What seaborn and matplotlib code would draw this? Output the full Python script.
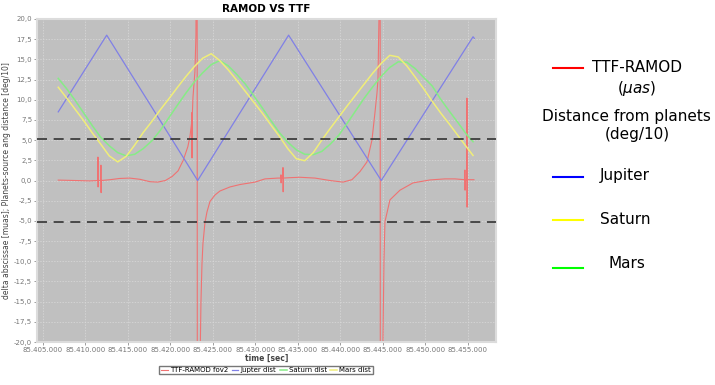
# %%
# ==========================================
# RAMOD VS TTF - recreated chart
# ==========================================
import numpy as np
import pandas as pd
import matplotlib
matplotlib.use("Agg")
import matplotlib.pyplot as plt
import seaborn as sns
from matplotlib.lines import Line2D
from matplotlib.ticker import FuncFormatter

# %%
# data (time in seconds = T0 + offset)
T0 = 85400000

# smooth planet distance curves, sampled every 1000 s
dist_offsets = [6800, 7800, 8800, 9800, 10800, 11800, 12800, 13800, 14800, 15800,
                16800, 17800, 18800, 19800, 20800, 21800, 22800, 23800, 24800, 25800,
                26800, 27800, 28800, 29800, 30800, 31800, 32800, 33800, 34800, 35800,
                36800, 37800, 38800, 39800, 40800, 41800, 42800, 43800, 44800, 45800,
                46800, 47800, 48800, 49800, 50800, 51800, 52800, 53800, 54800, 55600]

# yellow curve ("Mars dist" in the inner legend)
mars_dist = [11.55, 10.2, 8.8, 7.4, 5.9, 4.5, 3.05, 2.3, 3.0, 4.4,
             5.95, 7.3, 8.75, 10.1, 11.5, 12.85, 14.1, 15.15, 15.7, 14.85,
             13.7, 12.4, 11.05, 9.7, 8.35, 6.9, 5.5, 3.95, 2.7, 2.45,
             3.45, 5.0, 6.45, 7.85, 9.25, 10.6, 11.95, 13.3, 14.5, 15.5,
             15.3, 14.2, 12.8, 11.35, 9.8, 8.35, 7.0, 5.6, 4.2, 3.1]

# green curve ("Saturn dist" in the inner legend)
saturn_dist = [12.65, 11.35, 9.9, 8.35, 6.8, 5.35, 4.3, 3.45, 3.05, 3.25,
               3.95, 4.9, 6.2, 7.75, 9.3, 10.8, 12.2, 13.35, 14.35, 14.85,
               14.2, 13.15, 11.95, 10.5, 9.0, 7.45, 5.95, 4.75, 3.8, 3.25,
               3.2, 3.6, 4.5, 5.6, 7.1, 8.65, 10.2, 11.6, 12.9, 14.0,
               14.7, 14.65, 13.85, 12.75, 11.7, 10.05, 8.6, 7.2, 5.75, 4.8]

# blue triangle ("Jupter dist")
jup_offsets = [6800, 12500, 23200, 33900, 44800, 55600, 55750]
jup_dist = [8.5, 18.0, 0.0, 18.0, 0.0, 17.8, 17.6]

# red TTF-RAMOD residuals (muas), with spikes and the two singularities
ttf_offsets = [6800, 8800, 10500,
               11450, 11470, 11490, 11510, 11800, 11820, 11840, 11860,
               12900, 14000, 15200, 16400, 17600, 18500, 19400, 20200, 20900,
               21500, 22050, 22300, 22500, 22520, 22540, 22560, 22650, 22880,
               23000, 23060, 23120, 23180, 23450, 23590, 23710, 23824, 24060,
               24295, 24650, 25236, 25824, 27000, 28177, 29940, 31120, 32650,
               32980, 33000, 33020, 33040, 33220, 33240, 33260, 33280,
               34060, 35236, 37000, 38765, 40295, 41353, 42295, 43118, 43706,
               44059, 44295, 44412, 44530, 44650, 44710, 45000, 45118, 45236,
               45824, 47000, 48530, 50530, 52295, 53470,
               54620, 54640, 54660, 54680, 54860, 54880, 54900, 54920,
               55236, 55706]
ttf_ramod = [0.05, 0.0, -0.05,
             0.0, 2.9, -0.8, 0.0, 0.0, 1.9, -1.5, 0.0,
             0.1, 0.25, 0.3, 0.15, -0.15, -0.2, 0.0, 0.5, 1.2,
             2.5, 4.2, 5.5, 7.2, 8.4, 2.8, 7.8, 10.3, 13.5,
             18.0, 40.0, 80.0, -80.0, -25.0, -15.0, -10.3, -7.8, -5.2,
             -3.9, -2.6, -1.8, -1.3, -0.8, -0.5, -0.2, 0.2, 0.3,
             0.3, 0.7, -0.3, 0.3, 0.3, 1.6, -1.4, 0.3,
             0.35, 0.4, 0.3, 0.0, -0.2, 0.1, 1.1, 2.3, 5.0,
             8.4, 10.8, 12.4, 20.0, 80.0, -80.0, -20.0, -10.0, -5.1,
             -2.4, -1.2, -0.3, 0.07, 0.2, 0.2,
             0.1, 1.3, -1.2, 0.1, 0.1, 10.2, -3.3, 0.1,
             0.1, 0.1]

threshold = 5.2   # dashed limits drawn at +/- this value

x_ticks = [85405000, 85410000, 85415000, 85420000, 85425000,
           85430000, 85435000, 85440000, 85445000, 85450000, 85455000]
y_ticks = [-20, -17.5, -15, -12.5, -10, -7.5, -5, -2.5, 0,
           2.5, 5, 7.5, 10, 12.5, 15, 17.5, 20]

df_dist = pd.DataFrame({'time': np.array(dist_offsets) + T0,
                        'mars': mars_dist, 'saturn': saturn_dist})
df_jup = pd.DataFrame({'time': np.array(jup_offsets) + T0, 'jup': jup_dist})
df_ttf = pd.DataFrame({'time': np.array(ttf_offsets) + T0, 'ttf': ttf_ramod})

# %%
# figure
fig = plt.figure(figsize=(7.15, 3.85), dpi=100)
ax = fig.add_axes([37 / 715, 43 / 385, 459 / 715, 323 / 385])
ax.set_facecolor('#c0c0c0')

c_red, c_blue, c_green, c_yellow = '#f07272', '#8080e6', '#86ec86', '#f0ee78'

sns.lineplot(data=df_ttf, x='time', y='ttf', ax=ax, color=c_red, lw=0.8,
             estimator=None, label='TTF-RAMOD fov2')
sns.lineplot(data=df_jup, x='time', y='jup', ax=ax, color=c_blue, lw=0.9,
             estimator=None, label='Jupter dist')
sns.lineplot(data=df_dist, x='time', y='saturn', ax=ax, color=c_green, lw=1.1,
             estimator=None, label='Saturn dist')
sns.lineplot(data=df_dist, x='time', y='mars', ax=ax, color=c_yellow, lw=1.1,
             estimator=None, label='Mars dist')

# dashed limit lines
for yv in (threshold, -threshold):
    ax.axhline(yv, color='#333333', lw=1.2, ls=(0, (6, 4)), zorder=5, clip_on=False)

ax.set_xlim(85404300, 85458300)
ax.set_ylim(-20, 20)
ax.set_xticks(x_ticks)
ax.set_yticks(y_ticks)
ax.xaxis.set_major_formatter(FuncFormatter(lambda v, p: f"{int(round(v)):,}".replace(',', '.')))
ax.yaxis.set_major_formatter(FuncFormatter(lambda v, p: f"{v:.1f}".replace('.', ',')))
ax.tick_params(labelsize=5, colors='#777777', length=2, width=0.5, pad=1.5)
ax.grid(True, color='#dadada', lw=0.5, ls=(0, (2, 2)))
for s in ax.spines.values():
    s.set_color('#dcdcdc')
    s.set_linewidth(1.5)

ax.set_title('RAMOD VS TTF', fontsize=7.5, fontweight='bold', pad=5)
ax.set_xlabel('time [sec]', fontsize=5.5, fontweight='bold', color='#444444', labelpad=1)
ax.set_ylabel('delta abscissae [muas]; Planets-source ang distance [deg/10]',
              fontsize=5.5, color='#444444', labelpad=2)

# inner legend below the plot
ax.legend(loc='center', bbox_to_anchor=(266 / 715, 1 - 370 / 385),
          bbox_transform=fig.transFigure, ncol=4, fontsize=5, frameon=True,
          fancybox=False, edgecolor='#777777', framealpha=1, handlelength=1.0,
          handletextpad=0.3, columnspacing=0.5, borderpad=0.2)

# %%
# right-hand legend of the slide
def px(x, y):
    return x / 715, 1 - y / 385

for y, col in [(68, 'red'), (177, 'blue'), (220, '#ffff00'), (268, '#00ff00')]:
    x0, yy = px(553, y)
    x1, _ = px(583, y)
    fig.add_artist(Line2D([x0, x1], [yy, yy], color=col, lw=1.5))

fs = 11
fig.text(*px(592, 67), 'TTF-RAMOD', fontsize=fs, ha='left', va='center')
fig.text(*px(637, 88), r'$(\mu as)$', fontsize=fs, ha='center', va='center')
fig.text(*px(626, 117), 'Distance from planets', fontsize=fs, ha='center', va='center')
fig.text(*px(637, 134), '(deg/10)', fontsize=fs, ha='center', va='center')
fig.text(*px(600, 175), 'Jupiter', fontsize=fs, ha='left', va='center')
fig.text(*px(600, 219), 'Saturn', fontsize=fs, ha='left', va='center')
fig.text(*px(608, 264), 'Mars', fontsize=fs, ha='left', va='center')

fig.savefig('out.png', dpi=100)
